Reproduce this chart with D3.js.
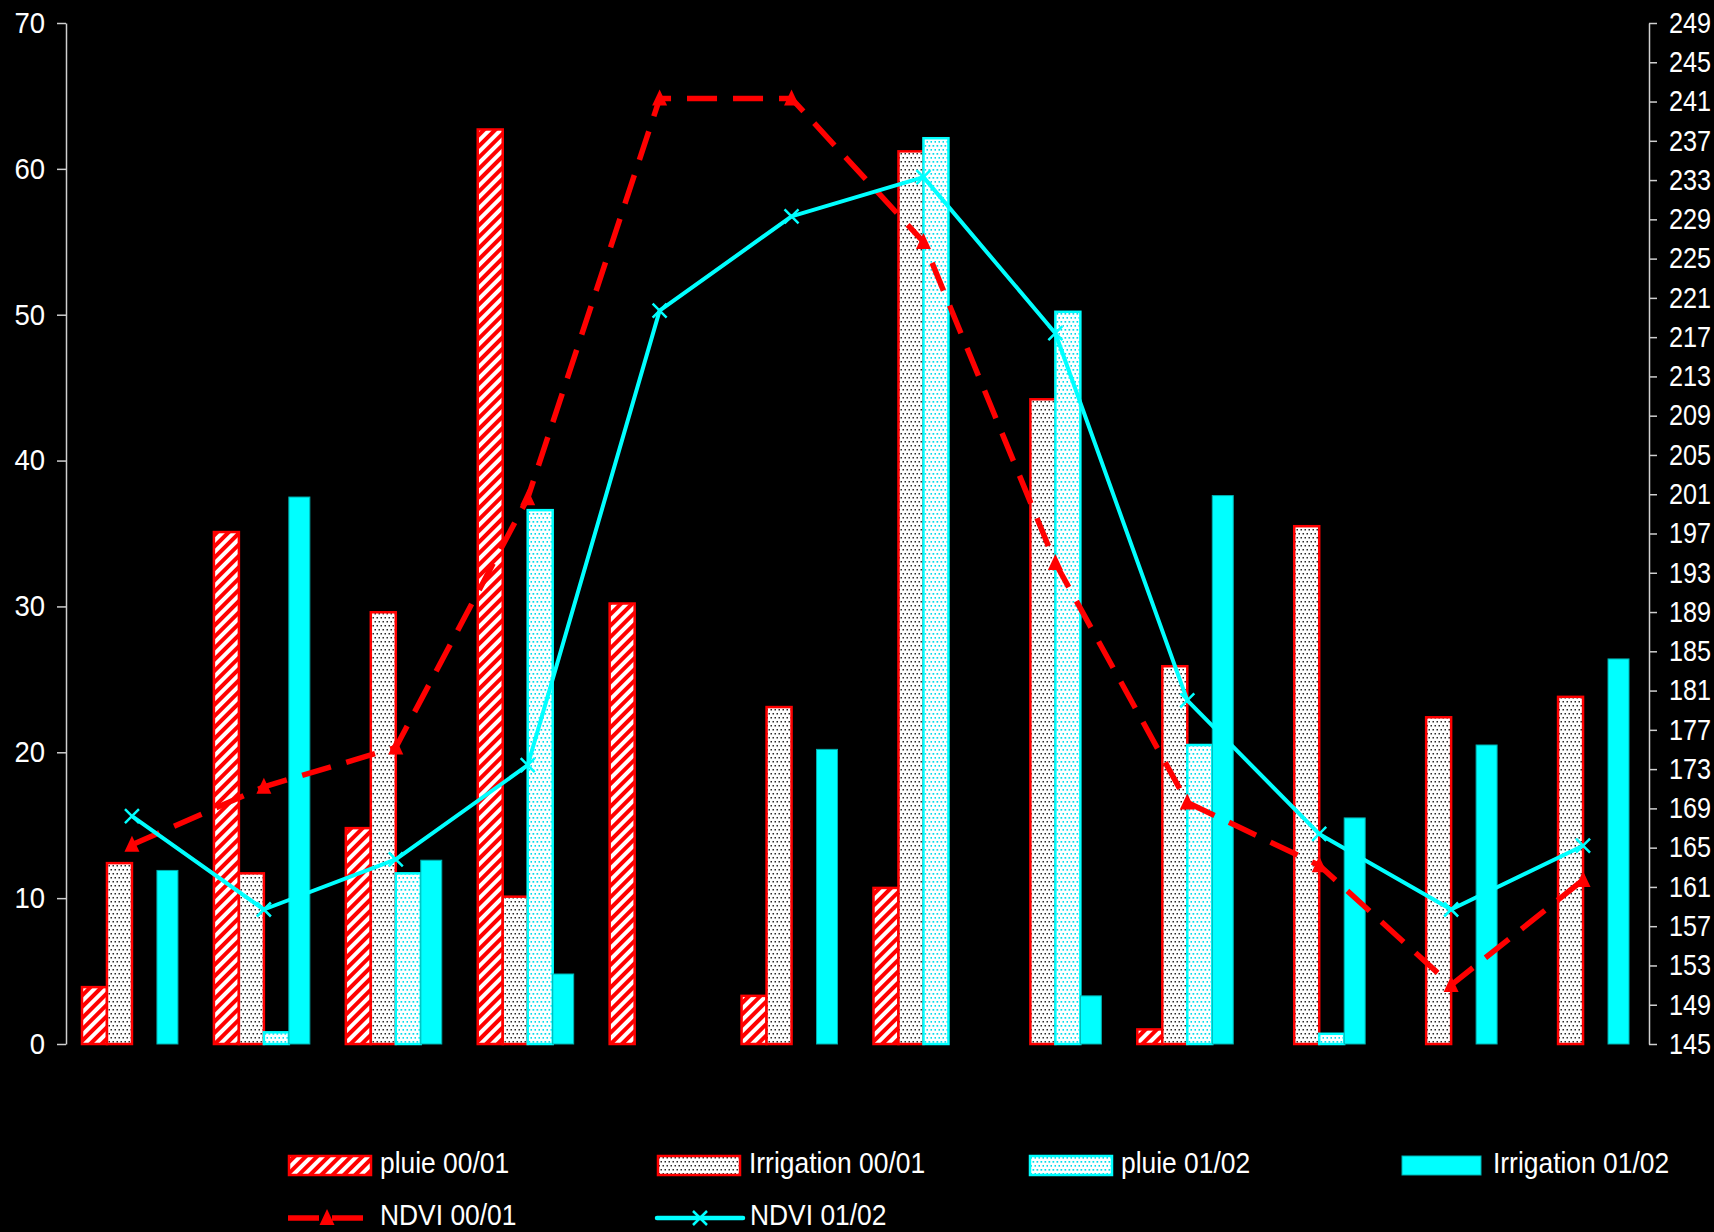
<!DOCTYPE html>
<html>
<head>
<meta charset="utf-8">
<script src="https://cdn.jsdelivr.net/npm/d3@7"></script>
<style>
  html, body { margin: 0; padding: 0; background: #000; }
  svg { display: block; }
</style>
</head>
<body>
<svg id="chart" width="1714" height="1232"></svg>
<script>
// Twelve observation periods (no x labels are drawn)
const periods = ["P1", "P2", "P3", "P4", "P5", "P6", "P7", "P8", "P9", "P10", "P11", "P12"];

// Water supply (mm), left axis
const pluie0001 = [3.9, 35.1, 14.8, 62.7, 30.2, 3.3, 10.7, 0, 1.0, 0, 0, 0];
const irrigation0001 = [12.4, 11.7, 29.6, 10.1, 0, 23.1, 61.2, 44.2, 25.9, 35.5, 22.4, 23.8];
const pluie0102 = [0, 0.8, 11.7, 36.6, 0, 0, 62.1, 50.2, 20.5, 0.7, 0, 0];
const irrigation0102 = [11.9, 37.5, 12.6, 4.8, 0, 20.2, 0, 3.3, 37.6, 15.5, 20.5, 26.4];

// NDVI, right axis
const ndvi0001 = [165.3, 171.2, 175.2, 200.6, 241.3, 241.3, 226.7, 194.0, 169.6, 163.2, 151.0, 161.7];
const ndvi0102 = [168.2, 158.7, 163.8, 173.4, 219.7, 229.3, 233.3, 217.4, 180.0, 166.4, 158.7, 165.2];

// Axis ticks
const leftTicks = [0, 10, 20, 30, 40, 50, 60, 70];
const rightTicks = [145, 149, 153, 157, 161, 165, 169, 173, 177, 181, 185, 189, 193, 197,
                    201, 205, 209, 213, 217, 221, 225, 229, 233, 237, 241, 245, 249];

const barKeys = ["pluie 00/01", "Irrigation 00/01", "pluie 01/02", "Irrigation 01/02"];
const barValues = [pluie0001, irrigation0001, pluie0102, irrigation0102];
const lineKeys = ["NDVI 00/01", "NDVI 01/02"];

const FONT = "'Liberation Sans', Arial, sans-serif";
const RED = "#ff0000";
const CYAN = "#00ffff";

const svg = d3.select("#chart");
svg.append("rect").attr("width", 1714).attr("height", 1232).attr("fill", "#000");

// ---- fill patterns ----
const defs = svg.append("defs");
const hatch = defs.append("pattern").attr("id", "hatch")
  .attr("patternUnits", "userSpaceOnUse").attr("width", 8).attr("height", 8)
  .attr("patternTransform", "rotate(45)");
hatch.append("rect").attr("width", 8).attr("height", 8).attr("fill", "#fff");
hatch.append("rect").attr("width", 4).attr("height", 8).attr("fill", RED);

function dotPattern(id, color, size) {
  const p = defs.append("pattern").attr("id", id)
    .attr("patternUnits", "userSpaceOnUse").attr("width", 4).attr("height", 8);
  p.append("rect").attr("width", 4).attr("height", 8).attr("fill", "#fff");
  p.append("rect").attr("x", 0.5).attr("y", 1).attr("width", size).attr("height", size).attr("fill", color);
  p.append("rect").attr("x", 2.5).attr("y", 5).attr("width", size).attr("height", size).attr("fill", color);
}
dotPattern("dotsGray", "#2a2a2a", 1.5);
dotPattern("dotsCyan", "#00dcec", 1.7);

const barStyle = [
  { fill: "url(#hatch)", stroke: RED, sw: 2.5, inset: 0 },
  { fill: "url(#dotsGray)", stroke: RED, sw: 2.5, inset: 0 },
  { fill: "url(#dotsCyan)", stroke: CYAN, sw: 2.5, inset: 0 },
  { fill: CYAN, stroke: "#00b0b0", sw: 1, inset: 4 }
];

// ---- scales ----
const plotLeft = 66, plotRight = 1649, plotTop = 23, plotBottom = 1044;
const x0 = d3.scaleBand().domain(periods).range([plotLeft, plotRight]).padding(0);
const x1 = d3.scaleBand().domain(barKeys).range([0, x0.bandwidth()])
  .paddingInner(0).paddingOuter(0.64);
const yL = d3.scaleLinear().domain([0, 70]).range([plotBottom, plotTop]);
const yR = d3.scaleLinear().domain([145, 249]).range([plotBottom, plotTop]);

// ---- axes ----
function styleAxis(g, labelX, sx) {
  g.select(".domain").attr("stroke", "#cfcfcf").attr("stroke-width", 1.5);
  g.selectAll(".tick line").attr("stroke", "#cfcfcf").attr("stroke-width", 1.5);
  g.selectAll(".tick text")
    .attr("fill", "#fff")
    .attr("font-family", FONT)
    .attr("font-size", 29)
    .attr("transform", `scale(${sx},1)`)
    .attr("x", labelX / sx);
}

svg.append("g")
  .attr("transform", `translate(${plotLeft},0)`)
  .call(d3.axisLeft(yL).tickValues(leftTicks).tickFormat(d3.format("d"))
    .tickSize(9).tickSizeOuter(0).tickPadding(12))
  .call(g => styleAxis(g, -21, 0.95));

svg.append("g")
  .attr("transform", `translate(${plotRight},0)`)
  .call(d3.axisRight(yR).tickValues(rightTicks).tickFormat(d3.format("d"))
    .tickSize(8).tickSizeOuter(0).tickPadding(12))
  .call(g => styleAxis(g, 20, 0.87));

// ---- bars ----
const barLayer = svg.append("g");
barKeys.forEach((key, s) => {
  const st = barStyle[s];
  const rows = periods.map((p, i) => ({ p, v: barValues[s][i] })).filter(d => d.v > 0);
  barLayer.append("g").selectAll("rect").data(rows).join("rect")
    .attr("x", d => x0(d.p) + x1(key))
    .attr("y", d => yL(d.v))
    .attr("width", x1.bandwidth() - st.inset)
    .attr("height", d => yL(0) - yL(d.v))
    .attr("fill", st.fill)
    .attr("stroke", st.stroke)
    .attr("stroke-width", st.sw);
});

// ---- NDVI lines ----
const cx = p => x0(p) + x0.bandwidth() / 2;
const triangle = "M0,-9L7.5,7L-7.5,7Z";
const cross = "M-7,-7L7,7M-7,7L7,-7";

const lineGen = d3.line().x(d => cx(d.p)).y(d => yR(d.v));
const red = periods.map((p, i) => ({ p, v: ndvi0001[i] }));
const cyan = periods.map((p, i) => ({ p, v: ndvi0102[i] }));

svg.append("path").datum(red).attr("d", lineGen)
  .attr("fill", "none").attr("stroke", RED).attr("stroke-width", 5.5)
  .attr("stroke-dasharray", "30,16").attr("stroke-linejoin", "round");
svg.append("g").selectAll("path").data(red).join("path")
  .attr("transform", d => `translate(${cx(d.p)},${yR(d.v)})`)
  .attr("d", triangle).attr("fill", RED);

svg.append("path").datum(cyan).attr("d", lineGen)
  .attr("fill", "none").attr("stroke", CYAN).attr("stroke-width", 4)
  .attr("stroke-linejoin", "round");
svg.append("g").selectAll("path").data(cyan).join("path")
  .attr("transform", d => `translate(${cx(d.p)},${yR(d.v)})`)
  .attr("d", cross).attr("fill", "none").attr("stroke", CYAN).attr("stroke-width", 2.5);

// ---- legend ----
const legendCols = [288, 657, 1029, 1401];
const legend = svg.append("g");
function legendText(x, y, label) {
  legend.append("text")
    .attr("transform", `translate(${x},${y}) scale(0.88,1)`)
    .attr("fill", "#fff").attr("font-family", FONT).attr("font-size", 30)
    .text(label);
}
barKeys.forEach((key, s) => {
  const st = barStyle[s];
  const x = legendCols[s];
  legend.append("rect")
    .attr("x", x + 1).attr("y", 1156)
    .attr("width", s === 3 ? 79 : 82).attr("height", 19)
    .attr("fill", st.fill).attr("stroke", st.stroke).attr("stroke-width", s === 3 ? 1 : 2.5);
  legendText(x + 92, 1173, key);
});

// NDVI 00/01 legend
legend.append("line").attr("x1", legendCols[0]).attr("x2", legendCols[0] + 78)
  .attr("y1", 1218).attr("y2", 1218)
  .attr("stroke", RED).attr("stroke-width", 5.5).attr("stroke-dasharray", "31,13");
legend.append("path").attr("transform", `translate(${legendCols[0] + 39},1218)`)
  .attr("d", triangle).attr("fill", RED);
legendText(legendCols[0] + 92, 1225, lineKeys[0]);

// NDVI 01/02 legend
legend.append("line").attr("x1", legendCols[1]).attr("x2", legendCols[1] + 86)
  .attr("y1", 1218).attr("y2", 1218)
  .attr("stroke", CYAN).attr("stroke-width", 4.5).attr("stroke-linecap", "round");
legend.append("path").attr("transform", `translate(${legendCols[1] + 43},1218)`)
  .attr("d", cross).attr("fill", "none").attr("stroke", CYAN).attr("stroke-width", 2.5);
legendText(legendCols[1] + 93, 1225, lineKeys[1]);
</script>
</body>
</html>
